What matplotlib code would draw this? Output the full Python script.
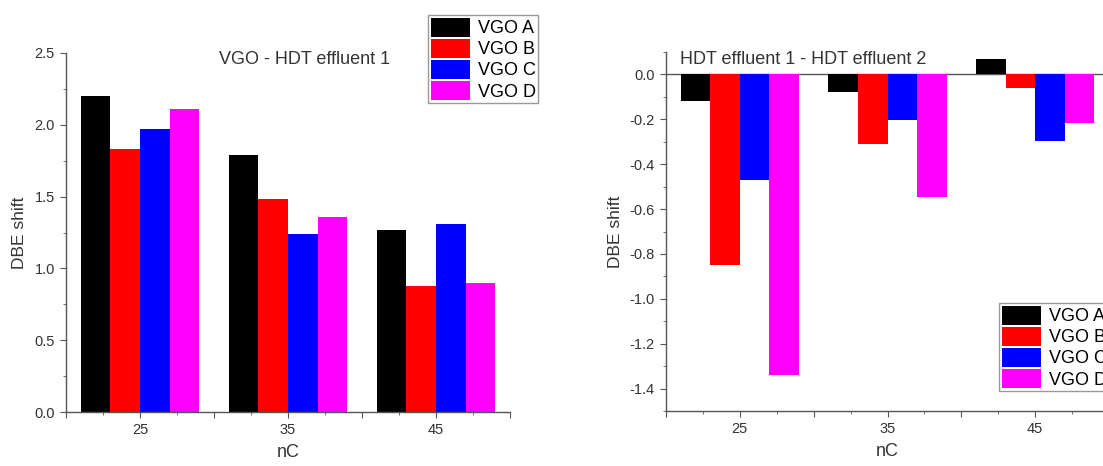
import numpy as np
import matplotlib.pyplot as plt
from matplotlib.ticker import MultipleLocator

# data
nC = [25, 35, 45]
series = ['VGO A', 'VGO B', 'VGO C', 'VGO D']
colors = ['#000000', '#ff0000', '#0000ff', '#ff00ff']

vgo_hdt1 = [
    [2.20, 1.79, 1.27],   # VGO A
    [1.83, 1.48, 0.88],   # VGO B
    [1.97, 1.24, 1.31],   # VGO C
    [2.11, 1.36, 0.90],   # VGO D
]
hdt1_hdt2 = [
    [-0.12, -0.08, 0.07],
    [-0.85, -0.31, -0.06],
    [-0.47, -0.205, -0.295],
    [-1.34, -0.545, -0.215],
]

plt.rcParams['font.family'] = ['Liberation Sans', 'DejaVu Sans']

W, H = 1103, 466
fig = plt.figure(figsize=(W / 100, H / 100), dpi=100)
ax1 = fig.add_axes([66 / W, 54 / H, 444 / W, 359 / H])
ax2 = fig.add_axes([666 / W, 55 / H, 443 / W, 359 / H])

bw = 2.0
offsets = np.array([-3, -1, 1, 3]) * bw / 2
txt = '#333333'


def draw(ax, vals):
    x = np.array(nC, dtype=float)
    for i in range(4):
        ax.bar(x + offsets[i], vals[i], width=bw, color=colors[i],
               label=series[i], linewidth=0)
    ax.set_xlim(20, 50)
    ax.xaxis.set_major_locator(MultipleLocator(5))
    ax.xaxis.set_minor_locator(MultipleLocator(2.5))
    ax.set_xticklabels(['' if t % 10 == 0 else str(int(t))
                        for t in ax.get_xticks()])
    for s in ['top', 'right']:
        ax.spines[s].set_visible(False)
    for s in ['left', 'bottom']:
        ax.spines[s].set_color('#555555')
        ax.spines[s].set_linewidth(1.0)
    ax.tick_params(which='both', direction='out', colors='#555555',
                   labelsize=10.5, labelcolor=txt)
    ax.tick_params(which='major', length=4.5)
    ax.tick_params(which='minor', length=2.5)
    ax.set_xlabel('nC', fontsize=13, color=txt, labelpad=5)
    ax.set_ylabel('DBE shift', fontsize=12.5, color=txt, labelpad=5)


draw(ax1, vgo_hdt1)
ax1.set_ylim(0, 2.5)
ax1.yaxis.set_major_locator(MultipleLocator(0.5))
ax1.yaxis.set_minor_locator(MultipleLocator(0.25))
ax1.yaxis.set_major_formatter(plt.FormatStrFormatter('%.1f'))
ax1.text(305, H - 60, 'VGO - HDT effluent 1', transform=None,
         ha='center', va='center', fontsize=13, color=txt)

draw(ax2, hdt1_hdt2)
ax2.set_ylim(-1.5, 0.1)
ax2.yaxis.set_major_locator(MultipleLocator(0.2))
ax2.yaxis.set_minor_locator(MultipleLocator(0.1))
ax2.yaxis.set_major_formatter(plt.FormatStrFormatter('%.1f'))
ax2.axhline(0, color='#555555', linewidth=1.0, zorder=0)
ax2.text(680, H - 60, 'HDT effluent 1 - HDT effluent 2', transform=None,
         ha='left', va='center', fontsize=13, color=txt)

h, l = ax1.get_legend_handles_labels()
leg_kw = dict(fontsize=13, handlelength=2.2, handleheight=1.25,
              labelspacing=0.08, handletextpad=0.4, borderpad=0.15,
              borderaxespad=0, fancybox=False, framealpha=1,
              edgecolor='#999999')
fig.legend(h, l, loc='upper left', bbox_to_anchor=(428 / W, 1 - 15 / H),
           **leg_kw)
# in the source image this legend runs past the right edge
fig.legend(h, l, loc='upper left', bbox_to_anchor=(999 / W, 1 - 303 / H),
           **leg_kw)

fig.savefig('out.png', dpi=100)
